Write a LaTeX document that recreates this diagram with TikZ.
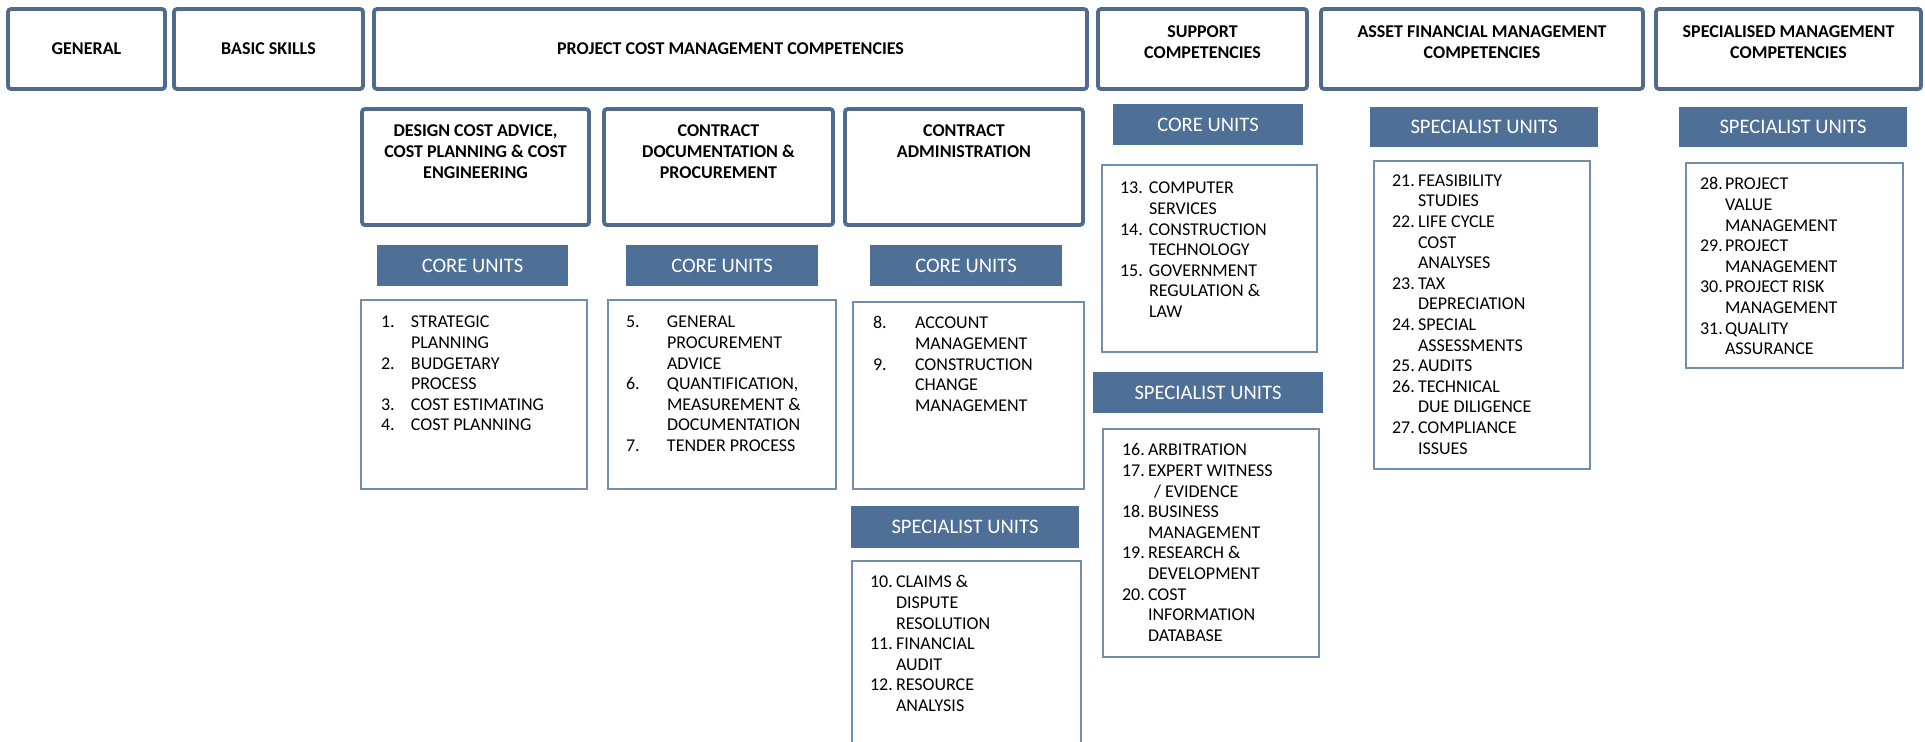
\documentclass[tikz,border=0pt]{standalone}
\usepackage{fontspec}
\setmainfont{Carlito}
\usetikzlibrary{fit}
\definecolor{edgeblue}{RGB}{79,108,142}
\definecolor{barblue}{RGB}{79,112,150}
\definecolor{listblue}{RGB}{115,142,173}
\begin{document}
\begin{tikzpicture}[x=0.5pt, y=-0.5pt,
    every node/.style={inner sep=0pt, outer sep=0pt},
    headbox/.style={draw=edgeblue, line width=1.9pt, rounded corners=1.5pt},
    headtext/.style={font=\bfseries\fontsize{9}{10.3}\selectfont, align=center},
    unitbar/.style={fill=barblue, text=white, font=\fontsize{10.3}{12}\selectfont},
    listbox/.style={draw=listblue, line width=0.7pt},
    listtext/.style={font=\fontsize{9}{10.3}\selectfont, anchor=north west}]
  \useasboundingbox (0,0) rectangle (1925,741);
  \clip (0,0) rectangle (1925,741);
  % top row
  \node[headbox, fit={(8,9) (165,89)}] (general) {};
  \node[headtext] at (general) {GENERAL};
  \node[headbox, fit={(174,9) (363,89)}] (basic) {};
  \node[headtext] at (basic) {BASIC SKILLS};
  \node[headbox, fit={(374,9) (1087,89)}] (pcm) {};
  \node[headtext] at (pcm) {PROJECT COST MANAGEMENT COMPETENCIES};
  \node[headbox, fit={(1098,9) (1307,89)}] (support) {};
  \node[headtext, anchor=north] at ([shift={(0,17)}]support.north) {SUPPORT\\COMPETENCIES};
  \node[headbox, fit={(1321,9) (1643,89)}] (asset) {};
  \node[headtext, anchor=north] at ([shift={(0,17)}]asset.north) {ASSET FINANCIAL MANAGEMENT\\COMPETENCIES};
  \node[headbox, fit={(1656,9) (1921,89)}] (spman) {};
  \node[headtext, anchor=north] at ([shift={(0,17)}]spman.north) {SPECIALISED MANAGEMENT\\COMPETENCIES};
  % project cost management groups
  \node[headbox, fit={(362,109) (589,225)}] (design) {};
  \node[headtext, anchor=north] at ([shift={(0,16)}]design.north) {DESIGN COST ADVICE,\\COST PLANNING \& COST\\ENGINEERING};
  \node[headbox, fit={(604,109) (833,225)}] (cdoc) {};
  \node[headtext, anchor=north] at ([shift={(0,16)}]cdoc.north) {CONTRACT\\DOCUMENTATION \&\\PROCUREMENT};
  \node[headbox, fit={(845,109) (1083,225)}] (cadmin) {};
  \node[headtext, anchor=north] at ([shift={(0,16)}]cadmin.north) {CONTRACT\\ADMINISTRATION};
  % unit bars
  \node[unitbar, fit={(377,245) (568,286)}] (design-core) {};
  \node[text=white, font=\fontsize{10.3}{12}\selectfont] at (design-core) {CORE UNITS};
  \node[unitbar, fit={(626,245) (818,286)}] (cdoc-core) {};
  \node[text=white, font=\fontsize{10.3}{12}\selectfont] at (cdoc-core) {CORE UNITS};
  \node[unitbar, fit={(870,245) (1062,286)}] (cadmin-core) {};
  \node[text=white, font=\fontsize{10.3}{12}\selectfont] at (cadmin-core) {CORE UNITS};
  \node[unitbar, fit={(851,506) (1079,548)}] (cadmin-spec) {};
  \node[text=white, font=\fontsize{10.3}{12}\selectfont] at (cadmin-spec) {SPECIALIST UNITS};
  \node[unitbar, fit={(1113,104) (1303,145)}] (support-core) {};
  \node[text=white, font=\fontsize{10.3}{12}\selectfont] at (support-core) {CORE UNITS};
  \node[unitbar, fit={(1093,372) (1323,413)}] (support-spec) {};
  \node[text=white, font=\fontsize{10.3}{12}\selectfont] at (support-spec) {SPECIALIST UNITS};
  \node[unitbar, fit={(1370,107) (1598,147)}] (asset-spec) {};
  \node[text=white, font=\fontsize{10.3}{12}\selectfont] at (asset-spec) {SPECIALIST UNITS};
  \node[unitbar, fit={(1679,107) (1907,147)}] (spman-spec) {};
  \node[text=white, font=\fontsize{10.3}{12}\selectfont] at (spman-spec) {SPECIALIST UNITS};
  % unit lists
  \node[listbox, fit={(361,300) (587,489)}] (design-list) {};
  \node[listtext] at ([shift={(20,13.4)}]design-list.north west) {%
    \begin{tabular}{@{}p{15pt}@{}l@{}}
      1. & STRATEGIC\\ & PLANNING\\
      2. & BUDGETARY\\ & PROCESS\\
      3. & COST ESTIMATING\\
      4. & COST PLANNING
    \end{tabular}};
  \node[listbox, fit={(608,300) (836,489)}] (cdoc-list) {};
  \node[listtext] at ([shift={(18,13.4)}]cdoc-list.north west) {%
    \begin{tabular}{@{}p{20.5pt}@{}l@{}}
      5. & GENERAL\\ & PROCUREMENT\\ & ADVICE\\
      6. & QUANTIFICATION,\\ & MEASUREMENT \&\\ & DOCUMENTATION\\
      7. & TENDER PROCESS
    \end{tabular}};
  \node[listbox, fit={(853,302) (1084,489)}] (cadmin-list) {};
  \node[listtext] at ([shift={(20,12.4)}]cadmin-list.north west) {%
    \begin{tabular}{@{}p{21pt}@{}l@{}}
      8. & ACCOUNT\\ & MANAGEMENT\\
      9. & CONSTRUCTION\\ & CHANGE\\ & MANAGEMENT
    \end{tabular}};
  \node[listbox, fit={(852,561) (1081,760)}] (cadmin-spec-list) {};
  \node[listtext] at ([shift={(18,12.4)}]cadmin-spec-list.north west) {%
    \begin{tabular}{@{}p{13pt}@{}l@{}}
      10. & CLAIMS \&\\ & DISPUTE\\ & RESOLUTION\\
      11. & FINANCIAL\\ & AUDIT\\
      12. & RESOURCE\\ & ANALYSIS
    \end{tabular}};
  \node[listbox, fit={(1102,165) (1317,352)}] (support-core-list) {};
  \node[listtext] at ([shift={(18,14.4)}]support-core-list.north west) {%
    \begin{tabular}{@{}p{14.5pt}@{}l@{}}
      13. & COMPUTER\\ & SERVICES\\
      14. & CONSTRUCTION\\ & TECHNOLOGY\\
      15. & GOVERNMENT\\ & REGULATION \&\\ & LAW
    \end{tabular}};
  \node[listbox, fit={(1103,429) (1319,657)}] (support-spec-list) {};
  \node[listtext] at ([shift={(19,12.4)}]support-spec-list.north west) {%
    \begin{tabular}{@{}p{13pt}@{}l@{}}
      16. & ARBITRATION\\
      17. & EXPERT WITNESS\\ & \hspace{3pt}/ EVIDENCE\\
      18. & BUSINESS\\ & MANAGEMENT\\
      19. & RESEARCH \&\\ & DEVELOPMENT\\
      20. & COST\\ & INFORMATION\\ & DATABASE
    \end{tabular}};
  \node[listbox, fit={(1374,161) (1590,469)}] (asset-list) {};
  \node[listtext] at ([shift={(18,10.9)}]asset-list.north west) {%
    \begin{tabular}{@{}p{13pt}@{}l@{}}
      21. & FEASIBILITY\\ & STUDIES\\
      22. & LIFE CYCLE\\ & COST\\ & ANALYSES\\
      23. & TAX\\ & DEPRECIATION\\
      24. & SPECIAL\\ & ASSESSMENTS\\
      25. & AUDITS\\
      26. & TECHNICAL\\ & DUE DILIGENCE\\
      27. & COMPLIANCE\\ & ISSUES
    \end{tabular}};
  \node[listbox, fit={(1686,163) (1903,368)}] (spman-list) {};
  \node[listtext] at ([shift={(14,12.4)}]spman-list.north west) {%
    \begin{tabular}{@{}p{12.5pt}@{}l@{}}
      28. & PROJECT\\ & VALUE\\ & MANAGEMENT\\
      29. & PROJECT\\ & MANAGEMENT\\
      30. & PROJECT RISK\\ & MANAGEMENT\\
      31. & QUALITY\\ & ASSURANCE
    \end{tabular}};
\end{tikzpicture}
\end{document}
